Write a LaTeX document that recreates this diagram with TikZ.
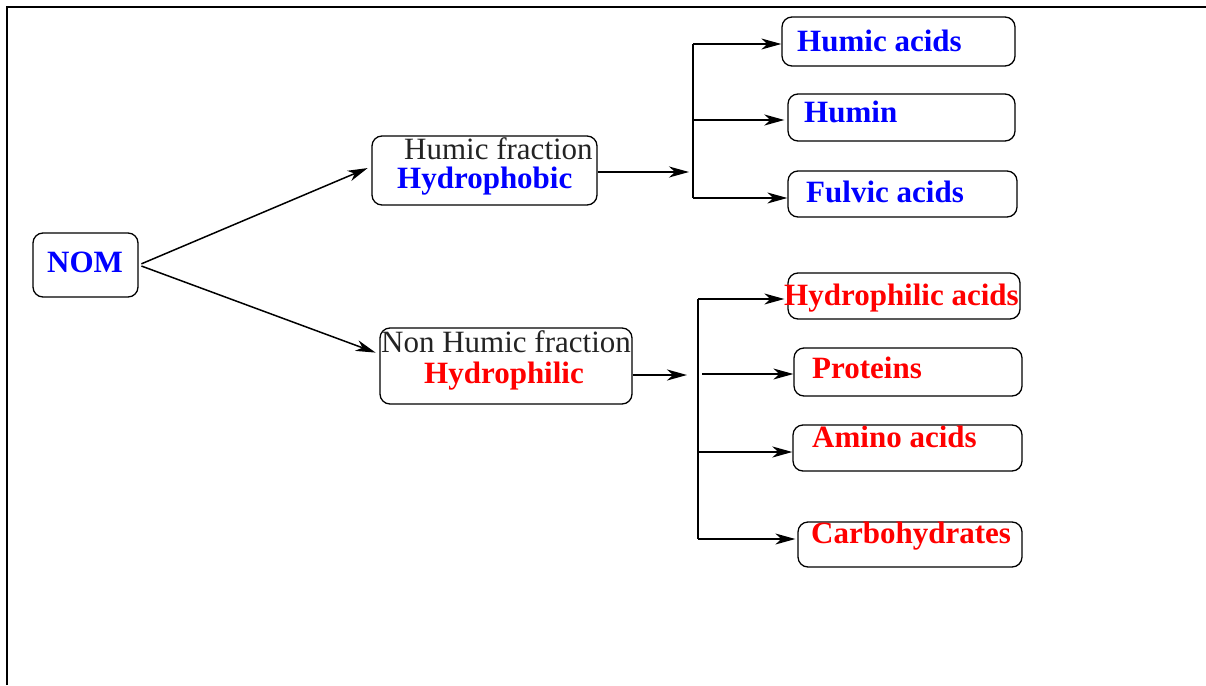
\documentclass[tikz,border=0pt]{standalone}
\usepackage{fontspec}
\setmainfont{Liberation Serif}
\usetikzlibrary{arrows.meta}
\definecolor{tblue}{RGB}{0,0,255}
\definecolor{tred}{RGB}{255,0,0}
\definecolor{tgray}{RGB}{35,35,35}
\begin{document}
\begin{tikzpicture}[x=1pt,y=-1pt,
  box/.style={draw, rounded corners=10pt, line width=1.3pt, inner sep=0pt},
  txt/.style={anchor=base west, inner sep=0pt, font=\fontsize{31}{36}\selectfont},
  btxt/.style={txt, font=\fontsize{31}{36}\selectfont\bfseries},
  arr/.style={-{Stealth[length=20pt,width=11pt,inset=6pt]}, line width=1.5pt},
  thk/.style={line width=2.4pt},
  lin/.style={line width=1.5pt}]
\useasboundingbox (0,0) rectangle (1206,685);
% frame
\draw[line width=2pt] (7,685) -- (7,7) -- (1206,7);
% boxes
\node[box, minimum width=105pt, minimum height=64pt] (nom) at (85.5,265) {};
\node[box, minimum width=225pt, minimum height=69pt] (hf) at (484.5,170.5) {};
\node[box, minimum width=252pt, minimum height=76pt] (nh) at (506,366) {};
\node[box, minimum width=233pt, minimum height=49pt] (ha) at (898.5,41.5) {};
\node[box, minimum width=227pt, minimum height=47pt] (hu) at (901.5,117.5) {};
\node[box, minimum width=229pt, minimum height=46pt] (fa) at (902.5,194) {};
\node[box, minimum width=232pt, minimum height=46pt] (hya) at (904,296) {};
\node[box, minimum width=228pt, minimum height=48pt] (pr) at (908,372) {};
\node[box, minimum width=229pt, minimum height=46pt] (am) at (907.5,448) {};
\node[box, minimum width=224pt, minimum height=45pt] (ca) at (910,544.5) {};
% texts
\node[btxt, text=tblue] (tnom) at (47,272) {NOM};
\node[txt, text=tgray] (thf1) at (404,159) {Humic fraction};
\node[btxt, text=tblue] (thf2) at (397,188) {Hydrophobic};
\node[txt, text=tgray] (tnh1) at (381,352) {Non Humic fraction};
\node[btxt, text=tred] (tnh2) at (424,383) {Hydrophilic};
\node[btxt, text=tblue] (tha) at (797,52) {Humic acids};
\node[btxt, text=tblue] (thu) at (804,122) {Humin};
\node[btxt, text=tblue] (tfa) at (806,202) {Fulvic acids};
\node[btxt, text=tred] (thya) at (784,305) {Hydrophilic acids};
\node[btxt, text=tred] (tpr) at (812,378) {Proteins};
\node[btxt, text=tred] (tam) at (812,447) {Amino acids};
\node[btxt, text=tred] (tca) at (811,543) {Carbohydrates};
% NOM connectors
\draw[arr, shorten <=3pt, shorten >=4pt] (nom.east) -- ([yshift=4pt]hf.west);
\draw[arr, shorten <=3pt, shorten >=4pt] (nom.east) -- ([yshift=12pt]nh.west);
% upper branch
\coordinate (j1) at (689,172);
\coordinate (v1t) at (693,44);
\coordinate (v1m) at (693,120);
\coordinate (v1b) at (693,198);
\draw[arr] (j1 -| hf.east) -- (j1);
\draw[lin] (v1t) -- (v1b);
\draw[arr] (v1t) -- (v1t -| ha.west);
\draw[arr, thk, shorten >=3pt] (v1m) -- (v1m -| hu.west);
\draw[arr] (v1b) -- (v1b -| fa.west);
% lower branch
\coordinate (j2) at (687,375);
\coordinate (v2t) at (698,299);
\coordinate (v2a) at (698,452);
\coordinate (v2b) at (698,539);
\coordinate (p2) at (702,374);
\draw[arr, thk] (j2 -| nh.east) -- (j2);
\draw[lin] (v2t) -- (v2b);
\draw[arr, shorten >=3pt] (v2t) -- (v2t -| hya.west);
\draw[arr] (p2) -- (p2 -| pr.west);
\draw[arr, thk] (v2a) -- (v2a -| am.west);
\draw[arr, shorten >=2pt] (v2b) -- (v2b -| ca.west);
\end{tikzpicture}
\end{document}
